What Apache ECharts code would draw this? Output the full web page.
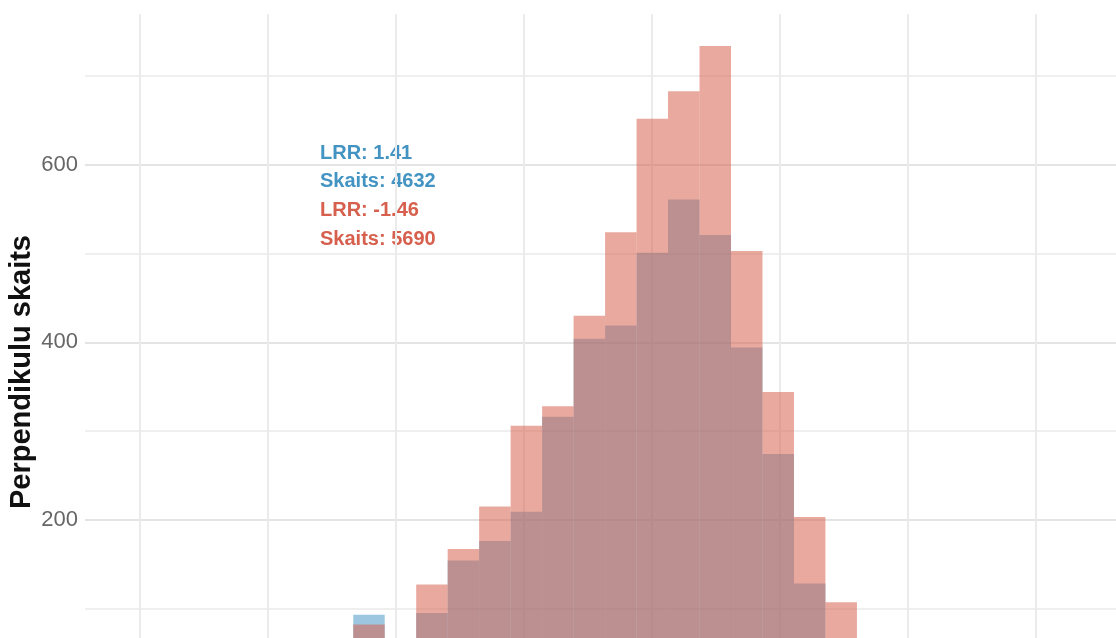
<!DOCTYPE html>
<html>
<head>
    <title>Perpendikulu skaits</title>
    <meta charset="utf-8">
    <script type="text/javascript" src="https://cdn.jsdelivr.net/npm/echarts@6/dist/echarts.min.js"></script>
    <style>
        html, body { margin: 0; padding: 0; overflow: hidden; background: #fff; }
        #chart { width: 1200px; height: 780px; }
    </style>
</head>
<body>
    <div id="chart"></div>
    <script type="text/javascript">
        // histogram bins (left edge), same bins for both groups
        const binStart = [0.341, 0.464, 0.587, 0.710, 0.833, 0.956, 1.079, 1.202, 1.325, 1.448, 1.571,
                          1.694, 1.817, 1.940, 2.063, 2.186, 2.309, 2.432, 2.555, 2.678, 2.801, 2.924, 3.047, 3.170];
        const binWidth = 0.123;
        const countsBlue = [12, 22, 35, 48, 93, 52, 95, 154, 176, 209, 316,
                            404, 419, 501, 561, 521, 394, 274, 128, 58, 44, 30, 18, 9];
        const countsRed = [15, 28, 42, 58, 82, 60, 127, 167, 215, 306, 328,
                           430, 524, 652, 683, 734, 503, 344, 203, 107, 55, 38, 22, 12];
        const notesBlue = ['LRR: 1.41', 'Skaits: 4632'];
        const notesRed = ['LRR: -1.46', 'Skaits: 5690'];
        const yTitle = 'Perpendikulu skaits';

        const blue = '#4393C3';
        const red = '#D6604D';

        const chart = echarts.init(document.getElementById('chart'));

        function bins(counts) {
            return counts.map((c, i) => [binStart[i], binStart[i] + binWidth, c]);
        }

        function renderBin(fill) {
            return function (params, api) {
                const p0 = api.coord([api.value(0), 0]);
                const p1 = api.coord([api.value(1), api.value(2)]);
                return {
                    type: 'rect',
                    shape: { x: p0[0], y: p1[1], width: p1[0] - p0[0], height: p0[1] - p1[1] },
                    style: { fill: fill }
                };
            };
        }

        const noteLines = [
            [notesBlue[0], blue], [notesBlue[1], blue],
            [notesRed[0], red], [notesRed[1], red]
        ];

        chart.setOption({
            animation: false,
            backgroundColor: '#fff',
            grid: { left: 85, top: 14, width: 1066, height: 716, outerBoundsMode: 'none' },
            xAxis: {
                type: 'value',
                min: -0.215,
                max: 3.95,
                minInterval: 0.5,
                maxInterval: 0.5,
                axisLine: { show: false },
                axisTick: { show: false },
                axisLabel: { show: false },
                splitLine: { show: true, showMinLine: false, showMaxLine: false,
                             lineStyle: { color: '#EBEBEB', width: 2 } }
            },
            yAxis: {
                type: 'value',
                min: -37,
                max: 770,
                minInterval: 200,
                maxInterval: 200,
                name: yTitle,
                nameLocation: 'middle',
                nameRotate: 90,
                nameGap: 49,
                nameMoveOverlap: false,
                nameTextStyle: { fontFamily: 'Liberation Sans', fontWeight: 'bold', fontSize: 29, color: '#111' },
                axisLine: { show: false },
                axisTick: { show: false },
                axisLabel: { showMinLabel: false, showMaxLabel: false, margin: 7,
                             fontFamily: 'Liberation Sans', fontSize: 22, color: '#666' },
                splitLine: { show: true, showMinLine: false, showMaxLine: false,
                             lineStyle: { color: '#E4E4E4', width: 2 } },
                minorTick: { show: false, splitNumber: 2 },
                minorSplitLine: { show: true, lineStyle: { color: '#EFEFEF', width: 2 } }
            },
            series: [
                {
                    type: 'custom',
                    name: 'LRR 1.41',
                    renderItem: renderBin('rgba(67,147,195,0.52)'),
                    encode: { x: [0, 1], y: 2 },
                    data: bins(countsBlue)
                },
                {
                    type: 'custom',
                    name: 'LRR -1.46',
                    renderItem: renderBin('rgba(214,96,77,0.54)'),
                    encode: { x: [0, 1], y: 2 },
                    data: bins(countsRed)
                }
            ],
            graphic: noteLines.map((n, i) => ({
                type: 'text',
                x: 320,
                y: 153 + i * 28.7,
                style: {
                    text: n[0],
                    fill: n[1],
                    font: 'bold 20px "Liberation Sans"',
                    verticalAlign: 'middle'
                }
            }))
        });
    </script>
</body>
</html>
